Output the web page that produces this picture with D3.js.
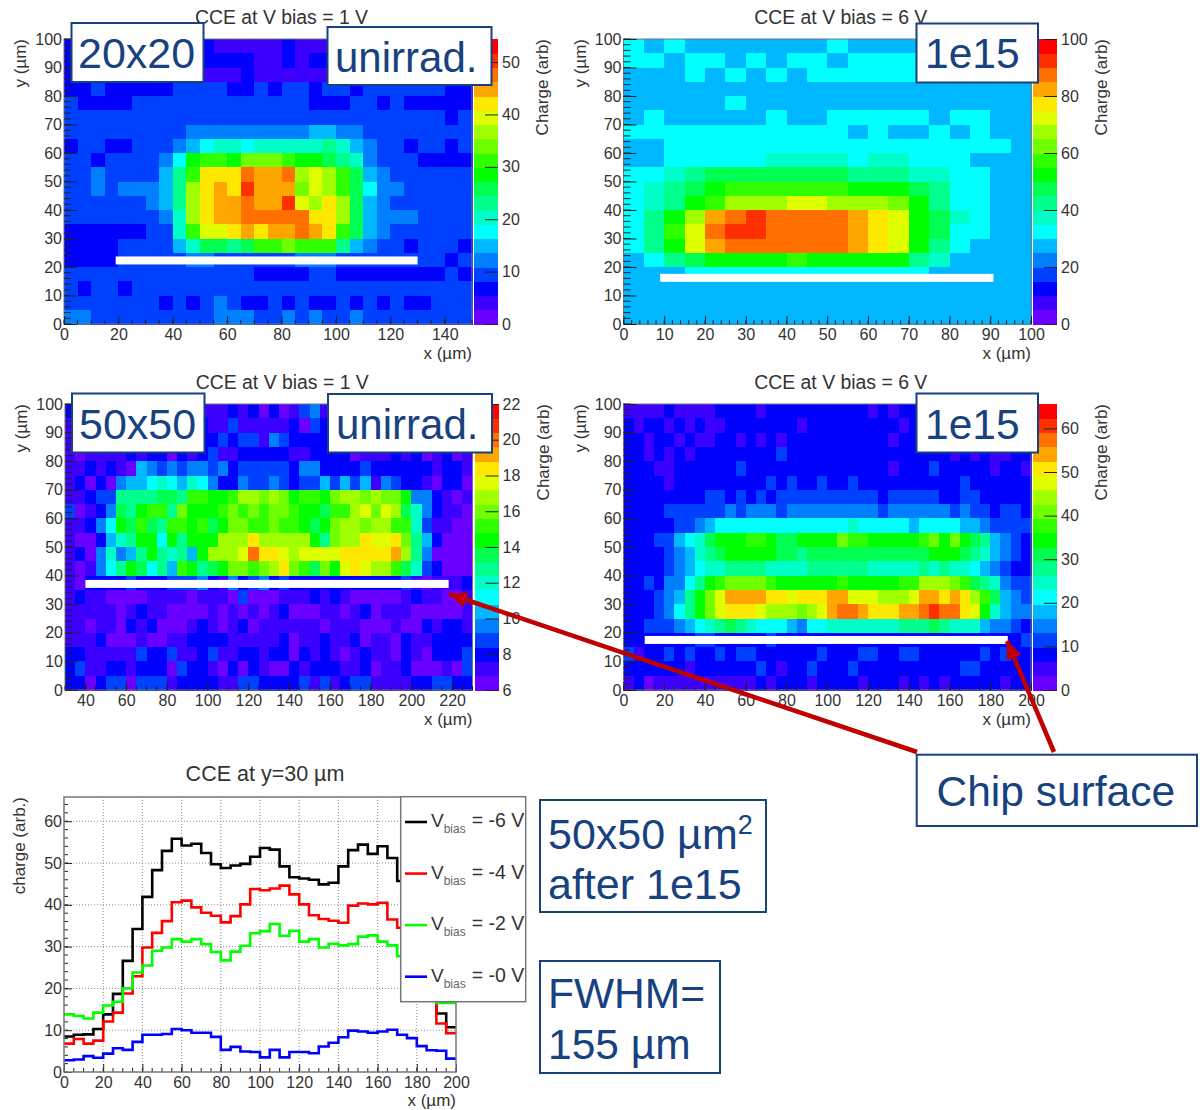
<!DOCTYPE html>
<html>
<head>
<meta charset="utf-8">
<script src="https://cdn.jsdelivr.net/npm/d3@7"></script>
<style>
  body { margin: 0; background: #fff; }
  svg { display: block; }
  text { font-family: "Liberation Sans", Arial, sans-serif; fill: #333; }
</style>
</head>
<body>
<svg id="chart" width="1200" height="1110"></svg>
<script>
const bins20Unirr = [
  [2,2,2,2,2,2,2,2,2,2,2,1,1,1,1,1,2,1,1,1,2,2,2,2,2,2,2,2,2,2],
  [2,2,2,2,2,2,2,2,2,2,2,2,2,2,1,1,2,1,2,2,2,2,2,2,2,2,2,2,2,2],
  [2,2,2,2,2,2,2,2,2,2,1,1,1,2,1,1,1,1,1,1,2,2,2,2,2,2,2,2,2,2],
  [2,2,3,2,2,2,2,2,3,3,3,3,2,2,3,2,3,3,2,3,3,2,3,3,3,3,3,3,2,2],
  [3,2,2,2,2,3,3,3,3,3,3,3,3,3,3,3,3,3,2,2,2,3,3,2,3,2,2,2,2,2],
  [3,3,3,3,3,3,3,3,3,3,3,3,3,3,3,3,3,3,3,3,3,3,3,3,3,3,3,3,2,3],
  [3,3,3,3,3,3,3,3,3,4,4,4,4,4,4,4,4,4,5,5,4,4,3,3,3,3,3,3,3,3],
  [2,3,3,2,2,3,3,3,4,5,6,7,7,6,7,7,7,7,7,8,7,5,4,3,3,2,3,3,2,3],
  [3,3,2,3,3,3,3,4,6,10,11,11,10,12,12,12,11,10,10,9,8,7,4,3,3,3,2,2,2,2],
  [3,3,4,3,3,3,3,5,8,11,15,15,15,17,16,16,17,13,14,13,11,9,5,4,3,3,3,3,3,3],
  [3,3,4,3,4,4,4,5,8,13,15,16,15,18,16,16,16,12,14,13,11,9,6,4,4,3,3,3,3,3],
  [3,3,3,3,3,3,4,5,8,13,15,16,16,17,16,16,18,14,13,15,13,9,5,4,3,3,3,3,3,3],
  [3,3,3,3,3,3,3,4,7,13,15,16,16,17,17,17,17,17,15,15,13,9,5,4,4,4,3,3,3,3],
  [2,2,2,2,2,2,3,3,7,11,14,14,15,16,15,16,16,17,16,15,11,9,5,4,3,3,3,3,3,3],
  [2,2,2,2,3,3,3,3,5,7,9,9,8,9,11,11,12,11,11,11,8,5,4,3,3,2,3,3,3,2],
  [2,2,2,2,3,3,3,3,3,4,4,3,3,3,3,3,3,4,4,4,3,3,3,3,3,3,3,3,2,3],
  [3,3,3,3,3,3,3,3,3,3,3,3,3,3,2,2,2,2,3,3,2,2,2,2,2,2,2,2,3,2],
  [3,2,3,3,2,3,3,3,3,3,3,3,3,3,3,3,3,3,3,3,3,3,3,3,3,3,3,3,3,3],
  [3,3,3,3,3,3,3,2,3,2,3,4,3,2,2,3,2,3,2,2,3,2,3,2,3,2,2,3,3,3],
  [4,4,3,3,3,3,3,3,3,3,3,4,4,4,3,3,4,3,4,3,3,4,3,3,3,3,3,3,3,3]
];

const bins20Irrad = [
  [6,5,6,5,5,5,5,5,5,5,6,5,5,5,5,5,5,5,5,5],
  [6,6,5,6,6,5,6,5,6,6,5,6,6,6,6,6,6,6,6,6],
  [5,5,5,6,5,6,5,6,5,6,6,6,6,6,6,6,6,6,6,6],
  [5,5,5,5,5,5,5,5,5,5,5,5,5,5,5,5,5,5,5,5],
  [5,5,5,5,5,6,5,5,5,5,5,5,5,5,5,5,5,5,5,5],
  [5,6,5,5,5,5,5,6,5,5,6,6,6,6,6,5,6,6,5,5],
  [6,6,6,6,6,6,6,6,6,6,6,5,6,5,5,6,5,6,5,5],
  [5,5,6,6,6,6,6,6,6,6,6,6,6,6,6,6,6,6,6,5],
  [5,5,6,6,6,6,6,7,7,7,7,6,7,7,6,6,6,5,5,5],
  [6,6,7,8,9,9,9,9,9,9,9,8,8,8,7,7,6,6,5,5],
  [6,7,8,9,10,11,11,11,11,11,11,10,10,10,9,8,6,6,5,5],
  [6,7,8,10,11,13,13,13,14,14,13,13,13,12,10,8,6,6,5,5],
  [6,8,10,13,16,17,18,17,17,17,17,16,15,14,10,9,7,6,5,5],
  [6,8,11,14,17,18,18,17,17,17,17,16,15,14,10,9,6,6,5,5],
  [6,8,10,14,16,17,17,17,17,17,17,16,15,14,10,8,6,5,5,5],
  [5,6,8,9,10,10,10,10,11,10,10,10,10,10,8,7,5,5,5,5],
  [5,5,5,6,6,6,6,6,6,6,6,6,6,6,6,5,5,5,5,5],
  [5,5,5,5,5,5,5,5,5,5,5,5,5,5,5,5,5,5,5,5],
  [5,5,5,5,5,5,5,5,5,5,5,5,5,5,5,5,5,5,5,5],
  [5,5,5,5,5,5,5,5,5,5,5,5,5,5,5,5,5,5,5,5]
];

const bins50Unirr = [
  [2,1,1,1,2,2,2,1,1,1,2,2,1,1,1,1,2,1,2,0,2,0,1,3,4,1,1,2,2,2,2,1,1,2,2,1,1,1,2,1],
  [1,1,1,2,1,2,2,1,1,2,2,2,1,2,1,1,3,1,1,1,1,1,2,0,3,2,2,1,2,2,1,2,2,1,1,2,2,1,1,2],
  [1,2,2,2,2,1,2,2,2,1,2,2,3,2,2,3,2,3,3,1,4,3,2,2,2,2,2,2,2,2,1,2,2,2,1,1,2,2,2,1],
  [1,0,1,1,1,1,2,1,2,2,0,2,1,2,3,1,1,2,2,2,2,2,1,1,2,2,2,2,0,1,1,1,2,1,2,0,1,2,0,1],
  [1,1,2,1,2,1,0,5,4,3,4,3,4,4,3,4,2,3,3,3,3,3,2,4,4,2,2,2,2,3,2,2,2,2,2,2,1,2,2,1],
  [1,2,0,2,0,4,5,5,6,7,6,5,7,6,4,2,2,4,3,3,4,3,2,3,3,5,3,5,3,5,1,4,3,2,2,1,0,2,2,0],
  [1,1,2,3,3,8,8,8,8,9,9,8,11,11,10,10,11,13,13,12,13,12,10,11,11,10,12,13,13,12,13,12,12,10,4,4,2,1,0,1],
  [3,0,1,2,4,9,8,10,11,11,8,12,10,10,10,11,12,11,12,11,12,12,11,10,10,9,11,11,13,14,12,14,13,9,7,4,2,1,1,0],
  [1,1,2,4,6,10,9,11,9,8,11,11,10,11,9,10,12,12,11,11,12,11,11,10,9,10,12,13,13,12,13,13,11,11,7,3,1,1,0,0],
  [1,0,0,2,5,7,8,10,10,6,10,8,10,10,10,13,13,13,15,13,13,13,13,13,10,8,12,13,13,15,14,14,15,12,8,5,2,0,0,0],
  [1,2,0,4,7,4,5,8,10,8,7,8,5,10,13,13,13,14,17,15,15,14,13,14,14,14,14,15,15,15,15,15,16,13,8,4,0,0,0,0],
  [1,0,1,4,6,8,10,9,6,8,5,11,10,8,9,10,12,12,11,12,13,15,12,11,9,12,10,14,15,14,13,13,11,9,7,3,2,0,0,0],
  [1,0,2,2,2,2,3,2,2,2,3,3,3,4,2,1,4,2,3,4,2,3,2,2,2,2,2,2,2,2,2,2,2,3,1,0,1,1,1,2],
  [1,2,1,1,0,0,0,0,1,1,1,1,0,1,1,1,0,3,0,0,0,1,1,1,2,1,2,1,0,0,0,0,0,1,2,1,1,0,0,1],
  [1,1,1,1,1,0,1,2,1,1,0,0,0,0,1,0,1,0,1,0,1,2,0,0,0,1,1,0,1,2,0,1,1,1,0,0,0,0,0,1],
  [1,1,0,1,1,0,2,1,2,0,0,0,1,2,1,0,1,2,0,1,1,1,1,1,1,0,1,1,1,0,0,0,1,0,0,2,1,2,2,1],
  [1,1,1,2,0,0,0,1,0,0,1,1,2,2,2,2,1,1,1,1,1,2,0,1,1,2,1,1,2,0,1,1,0,2,1,1,2,2,2,2],
  [2,2,1,1,1,1,1,3,2,2,3,1,1,2,3,1,1,2,2,1,2,2,0,2,1,2,1,0,1,2,1,1,0,2,1,0,2,2,2,3],
  [2,3,1,1,2,2,1,2,2,2,0,3,2,2,1,0,2,0,2,1,0,0,2,1,2,2,2,1,1,2,0,1,1,2,0,0,0,1,0,3],
  [2,2,0,2,3,3,0,3,3,3,1,2,2,2,2,1,1,3,3,2,2,2,2,3,1,3,1,2,3,3,1,1,1,1,2,2,3,3,2,2]
];

const bins50Irrad = [
  [1,1,1,1,2,1,1,1,1,2,2,2,2,1,2,2,2,2,2,2,2,2,2,2,1,2,1,2,2,2,2,2,2,2,2,2,2,2,2,2],
  [2,1,2,2,1,2,1,2,1,1,2,2,2,2,2,2,2,1,2,2,2,2,2,2,2,2,2,1,2,2,2,2,2,2,2,2,2,2,2,2],
  [2,2,1,2,2,1,2,1,1,2,2,1,2,1,2,1,2,2,2,2,2,2,2,2,2,2,1,2,2,2,2,2,2,2,2,2,2,2,2,2],
  [2,2,1,2,1,2,1,2,2,2,2,2,2,2,2,3,2,2,2,2,2,2,2,2,2,2,2,2,2,2,2,2,1,2,1,2,1,1,2,2],
  [2,2,2,1,1,2,2,2,2,2,2,3,2,2,2,2,2,2,2,2,2,2,2,2,2,2,1,2,2,2,3,2,2,2,2,2,1,2,2,1],
  [2,2,2,2,1,2,2,2,2,2,2,2,2,2,3,2,3,2,2,3,2,2,3,2,2,2,2,2,2,2,2,2,2,3,2,2,2,2,2,2],
  [2,2,2,2,2,2,2,2,3,3,2,3,2,3,2,3,3,3,3,3,3,3,3,3,3,2,3,3,3,3,3,2,2,3,3,2,2,2,2,2],
  [2,2,2,2,3,3,3,3,3,3,4,3,4,4,4,3,4,4,4,4,4,4,4,4,4,3,4,4,4,4,4,4,3,4,3,3,2,3,3,2],
  [2,2,2,2,2,3,3,4,5,6,6,6,6,6,6,6,6,6,6,6,6,6,7,6,6,6,6,6,5,6,6,6,6,5,5,4,3,3,3,3],
  [2,2,2,3,3,5,6,7,9,10,10,10,11,11,10,9,9,10,10,10,10,12,11,11,10,10,10,10,10,11,12,10,12,10,9,8,5,4,3,2],
  [2,2,2,2,3,4,5,7,8,9,10,10,10,10,10,9,9,8,9,9,9,9,9,9,9,9,9,9,9,9,10,10,10,9,8,7,5,4,3,2],
  [2,2,2,2,3,4,5,6,7,7,8,8,8,8,7,7,7,7,8,8,8,8,8,8,7,7,7,7,7,8,7,8,7,7,6,5,4,3,2,2],
  [2,2,3,2,4,4,6,8,10,11,12,12,12,12,11,10,10,10,10,10,10,11,10,10,10,10,10,11,11,13,13,13,12,11,9,8,7,4,3,3],
  [2,2,2,3,4,5,8,10,12,14,16,16,16,16,15,15,14,15,15,15,16,16,14,14,14,13,13,13,14,16,16,15,16,15,13,11,9,5,4,3],
  [2,2,2,3,4,6,8,10,12,14,15,15,15,14,13,13,13,12,13,14,16,17,17,16,15,15,15,16,16,17,18,17,17,15,14,10,7,5,4,4],
  [2,2,3,3,3,4,5,6,7,8,9,8,7,6,6,6,5,4,6,6,7,7,7,7,7,7,7,8,8,8,9,8,7,7,7,5,4,4,3,2],
  [2,2,2,2,2,2,2,3,3,2,2,2,2,2,3,2,2,2,2,2,2,2,2,2,2,2,2,2,2,2,2,2,2,2,2,2,2,2,2,3],
  [3,1,2,2,3,2,3,2,2,3,2,3,3,2,2,2,2,2,2,3,2,2,2,3,3,2,2,3,3,2,2,2,2,2,2,3,2,3,2,2],
  [2,2,2,2,2,2,1,2,2,2,2,2,2,3,2,1,2,2,3,2,2,2,3,2,2,2,2,2,2,2,2,2,2,3,3,2,2,2,2,2],
  [1,2,0,1,1,1,1,1,1,1,1,1,1,2,1,2,2,2,1,2,2,2,2,1,2,2,2,1,2,1,2,1,2,2,2,2,2,1,2,2]
];

// charge per 5 um bin at y = 30 um
const vbias6 = [8.5,8.9,9.0,10.3,13.8,18.7,26.6,34.2,41.9,48.3,52.9,55.8,54.2,54.6,52.4,49.7,48.8,49.4,49.8,51.5,53.6,53.2,49.2,46.6,46.3,46.0,44.9,45.3,49.2,53.1,54.4,52.2,54.0,51.2,45.7,42,36,22,14.0,10.7];
const vbias4 = [6.8,7.9,6.8,7.5,12.1,14.2,18.8,22.9,29.8,33.3,36.1,40.6,41.0,39.4,38.1,37.4,35.8,37.3,40.1,43.8,43.5,43.9,44.6,42.5,40.1,37.5,36.6,36.2,35.7,39.8,40.3,40.1,40.5,36.5,34.5,30,26,20,11.6,9.3];
const vbias2 = [13.8,13.4,12.8,14.2,15.9,16.8,20.0,23.8,25.5,29.0,29.8,31.8,31.2,31.8,30.6,28.7,26.7,28.8,30.2,33.2,33.7,35.4,32.6,33.8,31.2,31.8,29.8,30.7,30.3,30.6,32.4,32.7,31.2,30.3,27.7,26,24,20,16.5,16.5];
const vbias0 = [2.8,3.0,3.8,3.4,4.4,5.7,5.3,7.2,8.9,8.9,9.1,10.3,10.0,9.4,9.4,8.4,5.3,6.0,4.9,4.8,3.5,5.3,3.5,4.8,4.8,4.5,6.1,7.0,8.3,9.9,9.7,9.4,9.7,10.1,8.9,8.1,6.2,5.2,5.1,3.2];

const legendLabels = ["= -6 V", "= -4 V", "= -2 V", "= -0 V"];

const ticks0to100by10 = d3.range(0, 101, 10);
const ticks0to140by20 = d3.range(0, 141, 20);
const ticks40to220by20 = d3.range(40, 221, 20);
const ticks0to200by20 = d3.range(0, 201, 20);

const palette = ["#6a00ff", "#3c00ff", "#0000ff", "#0040ff", "#0080ff", "#00b8ff", "#00ffff", "#00ffc8",
  "#00ff8c", "#00ff50", "#00ff00", "#30ff00", "#70ff00", "#a0ff00", "#dfff00", "#ffe800",
  "#ffa500", "#ff7000", "#ff3000", "#ff0000"];

const navy = "#17417f";
const svg = d3.select("#chart");

function cleanAxis(g) {
  g.select(".domain").remove();
  g.selectAll("text").style("font-size", "16px").style("fill", "#333");
  g.selectAll("line").attr("stroke", "#222");
}

function minorTicks(g, scale, values, side, len) {
  g.selectAll(null)
    .data(values)
    .join("line")
      .attr("x1", d => side === "bottom" ? scale(d) : 0)
      .attr("x2", d => side === "bottom" ? scale(d) : len)
      .attr("y1", d => side === "bottom" ? 0 : scale(d))
      .attr("y2", d => side === "bottom" ? -len : scale(d))
      .attr("stroke", "#222");
}

function drawMap(p) {
  const g = svg.append("g");
  const nCols = p.rows[0].length;
  const nRows = p.rows.length;
  const binW = (p.xDomain[1] - p.xDomain[0]) / nCols;
  const binH = 100 / nRows;

  const x = d3.scaleLinear().domain(p.xDomain).range([p.left, p.right]);
  const y = d3.scaleLinear().domain([0, 100]).range([p.bottom, p.top]);
  const z = d3.scaleLinear().domain(p.zDomain).range([p.bottom, p.top]);
  const colour = d3.scaleQuantize().domain(p.zDomain).range(palette);
  const zStep = (p.zDomain[1] - p.zDomain[0]) / palette.length;
  const charge = b => p.zDomain[0] + (b + 0.5) * zStep;

  // cells
  p.rows.forEach((row, j) => {
    g.append("g")
      .attr("shape-rendering", "crispEdges")
      .selectAll("rect")
      .data(row)
      .join("rect")
        .attr("x", (d, i) => x(p.xDomain[0] + i * binW))
        .attr("width", (d, i) => x(p.xDomain[0] + (i + 1) * binW) - x(p.xDomain[0] + i * binW) + 0.5)
        .attr("y", y(100 - j * binH))
        .attr("height", y(100 - (j + 1) * binH) - y(100 - j * binH) + 0.5)
        .attr("fill", d => colour(charge(d)));
  });

  g.append("rect")
    .attr("x", p.left).attr("y", p.top)
    .attr("width", p.right - p.left).attr("height", p.bottom - p.top)
    .attr("fill", "none").attr("stroke", "#777");

  // axes, ROOT style with the ticks pointing inward
  g.append("g")
    .attr("transform", `translate(0,${p.bottom})`)
    .call(d3.axisBottom(x).tickValues(p.xTicks).tickSize(-8).tickPadding(5).tickFormat(d3.format("d")))
    .call(cleanAxis)
    .call(a => minorTicks(a, x, d3.range(p.xDomain[0], p.xDomain[1] + 0.1, p.xMinor), "bottom", 4));

  g.append("g")
    .attr("transform", `translate(${p.left},0)`)
    .call(d3.axisLeft(y).tickValues(ticks0to100by10).tickSize(-13).tickPadding(2))
    .call(cleanAxis)
    .call(a => minorTicks(a, y, d3.range(0, 100.1, 2), "left", 7));

  // palette bar
  const barLeft = p.right + 2;
  g.append("g")
    .attr("shape-rendering", "crispEdges")
    .selectAll("rect")
    .data(palette)
    .join("rect")
      .attr("x", barLeft)
      .attr("width", 24)
      .attr("y", (d, i) => z(p.zDomain[0] + (i + 1) * zStep))
      .attr("height", (d, i) => z(p.zDomain[0] + i * zStep) - z(p.zDomain[0] + (i + 1) * zStep) + 0.5)
      .attr("fill", d => d);

  g.append("g")
    .attr("transform", `translate(${barLeft + 24},0)`)
    .call(d3.axisRight(z).tickValues(p.zTicks).tickSize(-13).tickPadding(4))
    .call(cleanAxis);

  // titles
  g.append("text")
    .attr("x", (p.left + p.right) / 2 + 13.5)
    .attr("y", p.top - 15)
    .attr("text-anchor", "middle")
    .style("font-size", "19.4px")
    .text(p.title);

  g.append("text")
    .attr("x", p.right)
    .attr("y", p.bottom + 35)
    .attr("text-anchor", "end")
    .style("font-size", "17px")
    .text("x (\u00b5m)");

  g.append("text")
    .attr("transform", `translate(${p.left - 38},${p.top}) rotate(-90)`)
    .attr("text-anchor", "end")
    .style("font-size", "17px")
    .text("y (\u00b5m)");

  g.append("text")
    .attr("transform", `translate(${barLeft + 74},${p.top}) rotate(-90)`)
    .attr("text-anchor", "end")
    .style("font-size", "17px")
    .text("Charge (arb)");

  // white stripe marking the chip surface
  g.append("rect")
    .attr("x", x(p.chip[0]))
    .attr("width", x(p.chip[1]) - x(p.chip[0]))
    .attr("y", y(p.chip[2]) - 4)
    .attr("height", 8)
    .attr("fill", "#fff");
}

drawMap({
  rows: bins20Unirr, title: "CCE at V bias = 1 V",
  xDomain: [0, 150], xTicks: ticks0to140by20, xMinor: 5,
  zDomain: [0, 54.4], zTicks: d3.range(0, 51, 10),
  left: 64, right: 472, top: 39, bottom: 324, chip: [19, 130, 22.3]
});
drawMap({
  rows: bins20Irrad, title: "CCE at V bias = 6 V",
  xDomain: [0, 100], xTicks: ticks0to100by10, xMinor: 2,
  zDomain: [0, 100], zTicks: d3.range(0, 101, 20),
  left: 623.5, right: 1031, top: 39, bottom: 324, chip: [9, 90.8, 16.2]
});
drawMap({
  rows: bins50Unirr, title: "CCE at V bias = 1 V",
  xDomain: [30, 230], xTicks: ticks40to220by20, xMinor: 5,
  zDomain: [6, 22], zTicks: d3.range(6, 23, 2),
  left: 65, right: 472.5, top: 404, bottom: 690, chip: [40, 218.3, 37.1]
});
drawMap({
  rows: bins50Irrad, title: "CCE at V bias = 6 V",
  xDomain: [0, 200], xTicks: ticks0to200by20, xMinor: 5,
  zDomain: [0, 65.6], zTicks: d3.range(0, 61, 10),
  left: 623.5, right: 1031, top: 404, bottom: 690, chip: [10.4, 188.6, 17.5]
});

// profile at y = 30 um
(function drawProfile() {
  const g = svg.append("g");
  const left = 64, right = 456, top = 797, bottom = 1072;
  const x = d3.scaleLinear().domain([0, 200]).range([left, right]);
  const y = d3.scaleLinear().domain([0, 65.8]).range([bottom, top]);

  g.append("g")
    .attr("stroke", "#888").attr("stroke-dasharray", "1,2")
    .call(s => s.selectAll(null).data(ticks0to200by20.slice(1, -1)).join("line")
      .attr("x1", d => x(d)).attr("x2", d => x(d)).attr("y1", top).attr("y2", bottom))
    .call(s => s.selectAll(null).data(d3.range(10, 61, 10)).join("line")
      .attr("x1", left).attr("x2", right).attr("y1", d => y(d)).attr("y2", d => y(d)));

  g.append("g")
    .attr("transform", `translate(0,${bottom})`)
    .call(d3.axisBottom(x).tickValues(ticks0to200by20).tickSize(-8).tickPadding(5))
    .call(cleanAxis)
    .call(a => minorTicks(a, x, d3.range(0, 201, 5), "bottom", 4));

  g.append("g")
    .attr("transform", `translate(${left},0)`)
    .call(d3.axisLeft(y).tickValues(d3.range(0, 61, 10)).tickSize(-8).tickPadding(2))
    .call(cleanAxis)
    .call(a => minorTicks(a, y, d3.range(0, 65, 2), "left", 4));

  const series = [
    { values: vbias6, colour: "#000" },
    { values: vbias4, colour: "#f00" },
    { values: vbias2, colour: "#0f0" },
    { values: vbias0, colour: "#00f" }
  ];

  const line = d3.line()
    .curve(d3.curveStepAfter)
    .x((d, i) => x(i * 5))
    .y(d => y(d));

  g.selectAll(null)
    .data(series)
    .join("path")
      .attr("d", d => line(d.values.concat(d.values[d.values.length - 1])))
      .attr("fill", "none")
      .attr("stroke", d => d.colour)
      .attr("stroke-width", 2.6);

  g.append("rect")
    .attr("x", left).attr("y", top)
    .attr("width", right - left).attr("height", bottom - top)
    .attr("fill", "none").attr("stroke", "#777").attr("stroke-width", 1.5);

  g.append("text")
    .attr("x", 265).attr("y", 781)
    .attr("text-anchor", "middle")
    .style("font-size", "21.5px")
    .text("CCE at y=30 \u00b5m");

  g.append("text")
    .attr("x", right).attr("y", 1106)
    .attr("text-anchor", "end")
    .style("font-size", "17px")
    .text("x (\u00b5m)");

  g.append("text")
    .attr("transform", `translate(25,${top}) rotate(-90)`)
    .attr("text-anchor", "end")
    .style("font-size", "17px")
    .text("charge (arb.)");

  // legend
  g.append("rect")
    .attr("x", 400.7).attr("y", 796.7)
    .attr("width", 125).attr("height", 205)
    .attr("fill", "#fff").attr("stroke", "#777").attr("stroke-width", 1.5);

  const rowY = d3.scalePoint().domain(legendLabels).range([822, 976.7]);
  const entry = g.selectAll(null)
    .data(legendLabels)
    .join("g")
      .attr("transform", d => `translate(0,${rowY(d)})`);

  entry.append("line")
    .attr("x1", 405).attr("x2", 427)
    .attr("stroke", (d, i) => series[i].colour)
    .attr("stroke-width", 2.6);

  const label = entry.append("text").attr("x", 431).attr("y", 5);
  label.append("tspan").style("font-size", "19px").text("V");
  label.append("tspan").attr("dy", 6).style("font-size", "12px").style("fill", "#666").text("bias");
  label.append("tspan").attr("dy", -6).attr("dx", 6).style("font-size", "19.5px").text(d => d);
})();

// arrows towards the chip surface
svg.append("defs").append("marker")
  .attr("id", "head")
  .attr("viewBox", "0 0 18 16")
  .attr("refX", 18).attr("refY", 8)
  .attr("markerWidth", 18).attr("markerHeight", 16)
  .attr("markerUnits", "userSpaceOnUse")
  .attr("orient", "auto")
  .append("path")
    .attr("d", "M0,0L18,8L0,16Z")
    .attr("fill", "#c00000");

svg.selectAll(null)
  .data([[917, 752, 449, 594], [1054, 752, 1007, 641]])
  .join("line")
    .attr("x1", d => d[0]).attr("y1", d => d[1])
    .attr("x2", d => d[2]).attr("y2", d => d[3])
    .attr("stroke", "#c00000")
    .attr("stroke-width", 4.5)
    .attr("marker-end", "url(#head)");

// slide labels
function labelBox(x, y, w, h, lines, size) {
  const g = svg.append("g");
  g.append("rect")
    .attr("x", x).attr("y", y).attr("width", w).attr("height", h)
    .attr("fill", "#fff").attr("stroke", navy).attr("stroke-width", 2);
  lines.forEach(l => {
    const t = g.append("text")
      .attr("x", l.x).attr("y", l.y)
      .style("font-size", size + "px")
      .style("fill", navy)
      .text(l.text);
    if (l.sup) {
      t.append("tspan").attr("dy", -15).style("font-size", "27px").style("fill", navy).text(l.sup);
    }
  });
}

labelBox(71.5, 23, 132, 59, [{ text: "20x20", x: 78, y: 68 }], 43);
labelBox(327.5, 27, 164, 58, [{ text: "unirrad.", x: 335, y: 72 }], 42);
labelBox(916.5, 23.5, 121.5, 59, [{ text: "1e15", x: 925, y: 68 }], 42.5);
labelBox(72, 393.5, 132.5, 59, [{ text: "50x50", x: 79, y: 439 }], 43);
labelBox(328, 394, 164, 58.5, [{ text: "unirrad.", x: 336, y: 439 }], 42);
labelBox(916.5, 393.5, 121.5, 59, [{ text: "1e15", x: 925, y: 439 }], 42.5);
labelBox(540, 800, 226, 112, [
  { text: "50x50 \u00b5m", x: 548, y: 849, sup: "2" },
  { text: "after 1e15", x: 548, y: 899 }
], 43);
labelBox(540, 961, 180, 112, [
  { text: "FWHM=", x: 548, y: 1008 },
  { text: "155 \u00b5m", x: 548, y: 1059 }
], 42.5);
labelBox(916.7, 754.7, 280.3, 71.3, [{ text: "Chip surface", x: 936.5, y: 806 }], 42.5);
</script>
</body>
</html>
